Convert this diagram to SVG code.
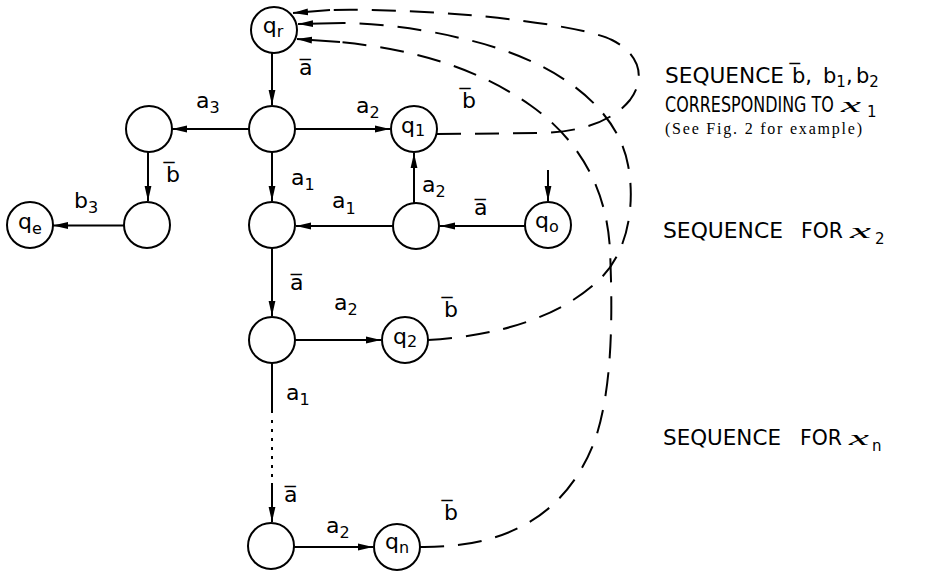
<svg xmlns="http://www.w3.org/2000/svg" width="931" height="571" viewBox="0 0 931 571">
  <style>
    .node circle { fill: #fff; stroke: #000; stroke-width: 2; }
    .edge { fill: none; stroke: #000; stroke-width: 2; }
    .arrow { marker-end: url(#arr); }
    .dash { stroke-dasharray: 24 14; }
    .dots { stroke-dasharray: 3 6; }
    text { fill: #000; }
    .q { font-family: "DejaVu Sans", sans-serif; font-size: 22px; }
    .lbl { font-family: "DejaVu Sans", sans-serif; font-size: 22px; }
    .sub { font-size: 16px; }
    .side { font-family: "DejaVu Sans", sans-serif; font-size: 21px; }
    .ssub { font-family: "DejaVu Sans", sans-serif; font-size: 15px; }
    .chi { font-family: "Liberation Serif", serif; font-style: italic; font-size: 22px; }
    .note { font-family: "Liberation Serif", serif; font-size: 16px; }
  </style>
  <defs>
    <marker id="arr" markerUnits="userSpaceOnUse" markerWidth="15" markerHeight="8" viewBox="0 0 15 8" refX="15" refY="4" orient="auto">
      <path d="M0,0.6 L15,4 L0,7.4 Z" fill="#000"/>
    </marker>
  </defs>
  <rect width="931" height="571" fill="#fff"/>

  <!-- connectors -->
  <g id="connectors">
    <path class="edge arrow" d="M272,53 L272,105"/>
    <path class="edge arrow" d="M249,129 L172,129"/>
    <path class="edge arrow" d="M295,129 L390,129"/>
    <path class="edge arrow" d="M272,152 L272,201"/>
    <path class="edge arrow" d="M148,152 L148,201"/>
    <path class="edge arrow" d="M124,225.5 L53,225.5"/>
    <path class="edge arrow" d="M393,226 L296,226"/>
    <path class="edge arrow" d="M414,203 L414,153"/>
    <path class="edge arrow" d="M525,226 L440,226"/>
    <path class="edge arrow" d="M548,170 L548,201"/>
    <path class="edge arrow" d="M272,248 L272,316"/>
    <path class="edge arrow" d="M295,340 L381,340"/>
    <path class="edge" d="M272,363 L272,413"/>
    <path class="edge dots" d="M272,420 L272,479"/>
    <path class="edge arrow" d="M272,483 L272,522"/>
    <path class="edge arrow" d="M294,547 L373,547"/>

    <!-- return paths to q_r -->
    <path class="edge dash" d="M437,134 L540,133 C580,132 612,122 630,100 C645,80 642,55 612,40 C582,25 450,8 330,10"/>
    <path class="edge arrow" d="M330,10 L293,13"/>
    <path class="edge dash" d="M428,340 C500,336 562,316 600,279 C630,250 635,200 628,165 C618,110 560,60 460,38 C420,28 370,23 343,23"/>
    <path class="edge arrow" d="M343,23 L298,24"/>
    <path class="edge dash" d="M420,547 C500,548 565,520 595,440 C612,390 613,320 610,250 C607,190 580,140 530,105 C480,70 420,50 340,42"/>
    <path class="edge arrow" d="M340,42 L297,39"/>
  </g>

  <!-- transition labels -->
  <g id="edge-labels" class="lbl">
    <text x="299" y="75">a&#x305;</text>
    <text x="196" y="108">a<tspan class="sub" dy="5">3</tspan></text>
    <text x="356" y="113">a<tspan class="sub" dy="5">2</tspan></text>
    <text x="462" y="108">b&#x305;</text>
    <text x="291" y="185">a<tspan class="sub" dy="5">1</tspan></text>
    <text x="422" y="192">a<tspan class="sub" dy="5">2</tspan></text>
    <text x="332" y="208">a<tspan class="sub" dy="6">1</tspan></text>
    <text x="474" y="215">a&#x305;</text>
    <text x="166" y="182">b&#x305;</text>
    <text x="74" y="208">b<tspan class="sub" dy="5">3</tspan></text>
    <text x="290" y="290">a&#x305;</text>
    <text x="334" y="310">a<tspan class="sub" dy="5">2</tspan></text>
    <text x="444" y="317">b&#x305;</text>
    <text x="286" y="400">a<tspan class="sub" dy="5">1</tspan></text>
    <text x="284" y="502">a&#x305;</text>
    <text x="326" y="533">a<tspan class="sub" dy="5">2</tspan></text>
    <text x="444" y="520">b&#x305;</text>
  </g>

  <!-- states -->
  <g id="node-qr" class="node"><circle cx="274" cy="30" r="23"/><text class="q" x="273" y="33" text-anchor="middle">q<tspan class="sub" dy="4">r</tspan></text></g>
  <g id="node-s1" class="node"><circle cx="272" cy="129" r="23"/></g>
  <g id="node-q1" class="node"><circle cx="414" cy="129" r="23"/><text class="q" x="413" y="133" text-anchor="middle">q<tspan class="sub" dy="3">1</tspan></text></g>
  <g id="node-s3" class="node"><circle cx="149" cy="129" r="23"/></g>
  <g id="node-s4" class="node"><circle cx="147" cy="225" r="23"/></g>
  <g id="node-qe" class="node"><circle cx="30" cy="225" r="23"/><text class="q" x="30" y="229" text-anchor="middle">q<tspan class="sub" dy="5">e</tspan></text></g>
  <g id="node-s2" class="node"><circle cx="272" cy="225" r="23"/></g>
  <g id="node-s5" class="node"><circle cx="416" cy="226" r="23"/></g>
  <g id="node-q0" class="node"><circle cx="548" cy="225" r="23"/><text class="q" x="547" y="228" text-anchor="middle">q<tspan class="sub" dy="4">o</tspan></text></g>
  <g id="node-s6" class="node"><circle cx="272" cy="340" r="23"/></g>
  <g id="node-q2" class="node"><circle cx="405" cy="340" r="23"/><text class="q" x="405" y="344" text-anchor="middle">q<tspan class="sub" dy="3">2</tspan></text></g>
  <g id="node-s7" class="node"><circle cx="271" cy="546" r="23"/></g>
  <g id="node-qn" class="node"><circle cx="397" cy="547" r="23"/><text class="q" x="397" y="549" text-anchor="middle">q<tspan class="sub" dy="4">n</tspan></text></g>

  <!-- side notes -->
  <g id="note-x1">
    <text class="side" x="665" y="83" textLength="119" lengthAdjust="spacingAndGlyphs">SEQUENCE</text>
    <text class="side" x="792" y="83">b&#x305;,</text>
    <text class="side" x="823" y="83">b<tspan class="ssub" dy="4">1</tspan><tspan dy="-4">,</tspan></text>
    <text class="side" x="856" y="83">b<tspan class="ssub" dy="4">2</tspan></text>
    <text class="side" transform="translate(665,112) scale(0.76,1)">CORRESPONDING TO</text>
    <text class="chi" x="841" y="112" textLength="20" lengthAdjust="spacingAndGlyphs">x</text>
    <text class="ssub" x="867" y="117">1</text>
    <text class="note" x="665" y="134" textLength="197" lengthAdjust="spacing">(See Fig. 2 for example)</text>
  </g>
  <g id="note-x2">
    <text class="side" x="663" y="238" textLength="120" lengthAdjust="spacingAndGlyphs">SEQUENCE</text>
    <text class="side" x="801" y="238" textLength="42" lengthAdjust="spacingAndGlyphs">FOR</text>
    <text class="chi" x="850" y="238" textLength="21" lengthAdjust="spacingAndGlyphs">x</text>
    <text class="ssub" x="875" y="244">2</text>
  </g>
  <g id="note-xn">
    <text class="side" x="663" y="445" textLength="118" lengthAdjust="spacingAndGlyphs">SEQUENCE</text>
    <text class="side" x="800" y="445" textLength="42" lengthAdjust="spacingAndGlyphs">FOR</text>
    <text class="chi" x="849" y="445" textLength="20" lengthAdjust="spacingAndGlyphs">x</text>
    <text class="ssub" x="872" y="451">n</text>
  </g>
</svg>
